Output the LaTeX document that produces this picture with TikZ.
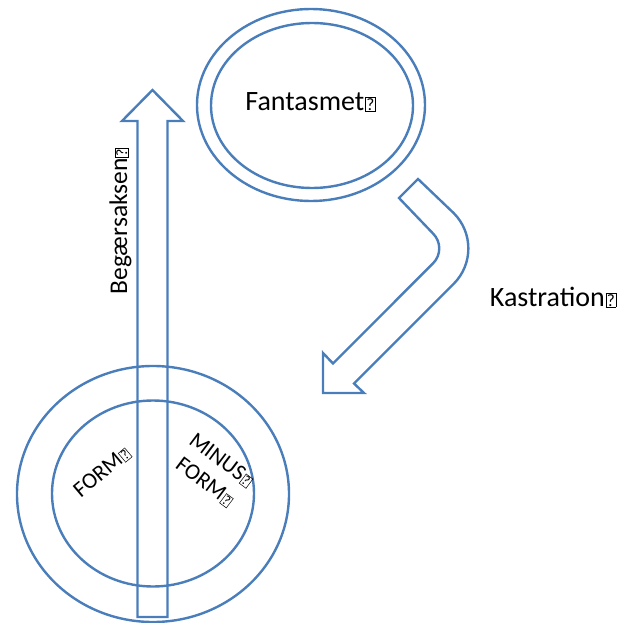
\documentclass[tikz,border=0pt]{standalone}
\usepackage{fontspec}
\setmainfont{Carlito}
\definecolor{ol}{HTML}{4A7EBB}
\newcommand{\qb}{\kern0.8pt{\fboxsep=0.7pt\fboxrule=0.5pt\fbox{\scalebox{0.62}{?}}}}
\begin{document}
\begin{tikzpicture}[x=1pt,y=1pt,
  shapeline/.style={draw=ol, line width=2.4pt, line join=miter},
  bigtext/.style={font=\fontsize{28}{34}\selectfont, inner sep=0pt},
  midtext/.style={font=\fontsize{25.5}{31}\selectfont, inner sep=0pt},
  smalltext/.style={font=\fontsize{22.5}{27.5}\selectfont, inner sep=0pt, align=center}]
\useasboundingbox (0,0) rectangle (626,-623);
% bottom double circle
\draw[shapeline] (153,-494) ellipse[x radius=136pt, y radius=128pt];
\draw[shapeline] (153,-493.5) ellipse[x radius=101pt, y radius=93pt];
% vertical arrow
\draw[shapeline] (137.5,-617) -- (137.5,-121) -- (122,-121) -- (152.5,-90)
  -- (183,-121) -- (167.5,-121) -- (167.5,-617) -- cycle;
% top double ellipse
\draw[shapeline] (311,-105) ellipse[x radius=114pt, y radius=96pt];
\draw[shapeline] (312,-105.5) ellipse[x radius=101pt, y radius=82.5pt];
% bent arrow
\draw[shapeline] (418,-179) -- (453.7,-213.1) arc[start angle=45, end angle=-45, radius=50pt]
  -- (354,-383.5) -- (364,-393) -- (323,-393) -- (323,-353) -- (333,-363.5)
  -- (433.1,-263.3) arc[start angle=-45, end angle=45, radius=21pt] -- (399,-198) -- cycle;
% texts
\node[bigtext] (fan) at (310.5,-102) {Fantasmet\qb};
\node[bigtext] (kas) at (553,-297) {Kastration\qb};
\node[midtext, rotate=90] (beg) at (120.5,-221) {Begærsaksen\qb};
\node[smalltext, rotate=40] (form) at (102,-472) {FORM\qb};
\node[smalltext, rotate=-37] (minus) at (213,-471) {MINUS\qb\\FORM\qb};
\end{tikzpicture}
\end{document}
